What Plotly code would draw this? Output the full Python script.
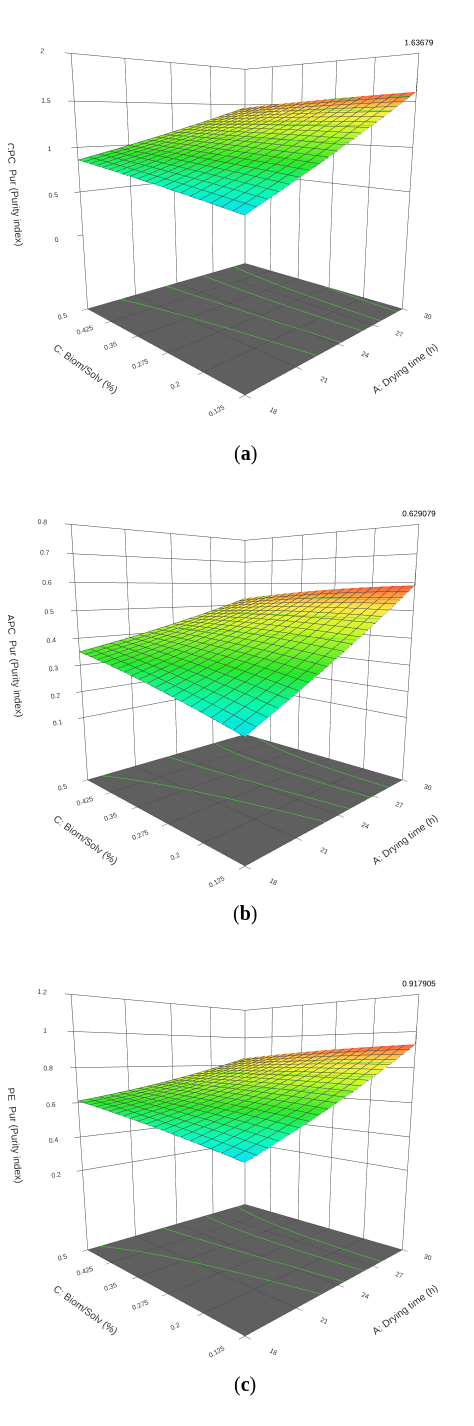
import plotly.graph_objects as go
import numpy as np

# 坐标轴取值
drying_time = [18, 21, 24, 27, 30]
biom_solv = [0.125, 0.2, 0.275, 0.35, 0.425, 0.5]

# 响应面模型系数 (编码变量): b0, bA, bC, bAC, bAA, bCC
coef_cpc = [1.12, 0.40, 0.03, -0.10, 0.02, -0.01]
coef_apc = [0.42, 0.14, 0.02, -0.05, 0.01, -0.01]
coef_pe = [0.70, 0.18, 0.02, -0.06, 0.02, -0.01]

max_cpc = 1.63679
max_apc = 0.629079
max_pe = 0.917905

ztick_cpc = [0, 0.5, 1, 1.5, 2]
ztick_apc = [0.1, 0.2, 0.3, 0.4, 0.5, 0.6, 0.7, 0.8]
ztick_pe = [0.2, 0.4, 0.6, 0.8, 1, 1.2]

colorscale = [[0, '#00d8e8'], [0.12, '#00f0b0'], [0.32, '#20e020'],
              [0.6, '#c0f020'], [0.8, '#f8e040'], [1, '#ff5030']]


def surface(coef, n=21):
    a = np.linspace(-1, 1, n)
    c = np.linspace(-1, 1, n)
    A, C = np.meshgrid(a, c)
    b0, bA, bC, bAC, bAA, bCC = coef
    Z = b0 + bA*A + bC*C + bAC*A*C + bAA*A**2 + bCC*C**2
    x = 18 + (a + 1) * 6
    y = 0.125 + (c + 1) * 0.1875
    return x, y, Z


def add_panel(fig, coef, zmax_label, scene, cstart, cend, csize):
    x, y, Z = surface(coef)
    fig.add_trace(go.Surface(
        x=x, y=y, z=Z, colorscale=colorscale, showscale=False, scene=scene,
        lighting=dict(ambient=0.9, diffuse=0.3, specular=0.05),
        contours=dict(
            x=dict(show=True, start=18, end=30, size=0.6, color='#444444', width=1),
            y=dict(show=True, start=0.125, end=0.5, size=0.01875, color='#444444', width=1),
            z=dict(show=True, start=cstart, end=cend, size=csize, color='#40d830',
                   project=dict(z=True), width=3),
        ),
        hoverinfo='skip'))
    i, j = np.unravel_index(np.argmax(Z), Z.shape)
    top = scene_top[scene]
    fig.add_trace(go.Scatter3d(
        x=[x[j], x[j]], y=[y[i], y[i]], z=[Z[i, j], top],
        mode='lines+text', text=['', f'{zmax_label:g}'], textposition='top center',
        textfont=dict(size=8, color='black'),
        line=dict(color='black', width=2), scene=scene, showlegend=False, hoverinfo='skip'))


scene_top = {'scene': 2.0, 'scene2': 0.8, 'scene3': 1.2}

fig = go.Figure()
add_panel(fig, coef_cpc, max_cpc, 'scene', 0.95, 1.6, 0.15)
add_panel(fig, coef_apc, max_apc, 'scene2', 0.36, 0.62, 0.06)
add_panel(fig, coef_pe, max_pe, 'scene3', 0.62, 0.9, 0.07)


def scene_layout(domain_y, zlabel, zticks, zrange):
    ax = dict(showgrid=True, gridcolor='#444444', gridwidth=1, showbackground=True,
              backgroundcolor='white', showspikes=False, ticks='outside',
              tickfont=dict(size=9, family='Arial', color='#333333'),
              linecolor='#444444', showline=True)
    return dict(
        domain=dict(x=[0, 1], y=domain_y),
        xaxis=dict(ax, title=dict(text='A: Drying time (h)', font=dict(size=10)),
                   range=[18, 30], tickvals=drying_time),
        yaxis=dict(ax, title=dict(text='C: Biom/Solv (%)', font=dict(size=10)),
                   range=[0.125, 0.5], tickvals=biom_solv),
        zaxis=dict(ax, title=dict(text=zlabel, font=dict(size=10)),
                   range=zrange, tickvals=zticks, backgroundcolor='#5f5f5f'),
        camera=dict(eye=dict(x=-1.5, y=-1.5, z=0.3), center=dict(x=0, y=0, z=-0.12)),
        aspectmode='manual', aspectratio=dict(x=1, y=1, z=1.1),
    )


fig.update_layout(
    width=474, height=1426, paper_bgcolor='white', showlegend=False,
    margin=dict(l=0, r=0, t=0, b=0),
    font=dict(family='Arial', color='#333333'),
    scene=scene_layout([0.71, 1.0], 'CPC_Pur (Purity index)', ztick_cpc, [-0.9, 2]),
    scene2=scene_layout([0.38, 0.67], 'APC_Pur (Purity index)', ztick_apc, [-0.15, 0.8]),
    scene3=scene_layout([0.05, 0.34], 'PE_Pur (Purity index)', ztick_pe, [-0.3, 1.2]),
)

for label, yy in [('(<b>a</b>)', 0.697), ('(<b>b</b>)', 0.365), ('(<b>c</b>)', 0.025)]:
    fig.add_annotation(text=label, x=0.5, y=yy, xref='paper', yref='paper', showarrow=False,
                       font=dict(size=20, family='Liberation Serif', color='black'))

fig.write_html("out.html")
